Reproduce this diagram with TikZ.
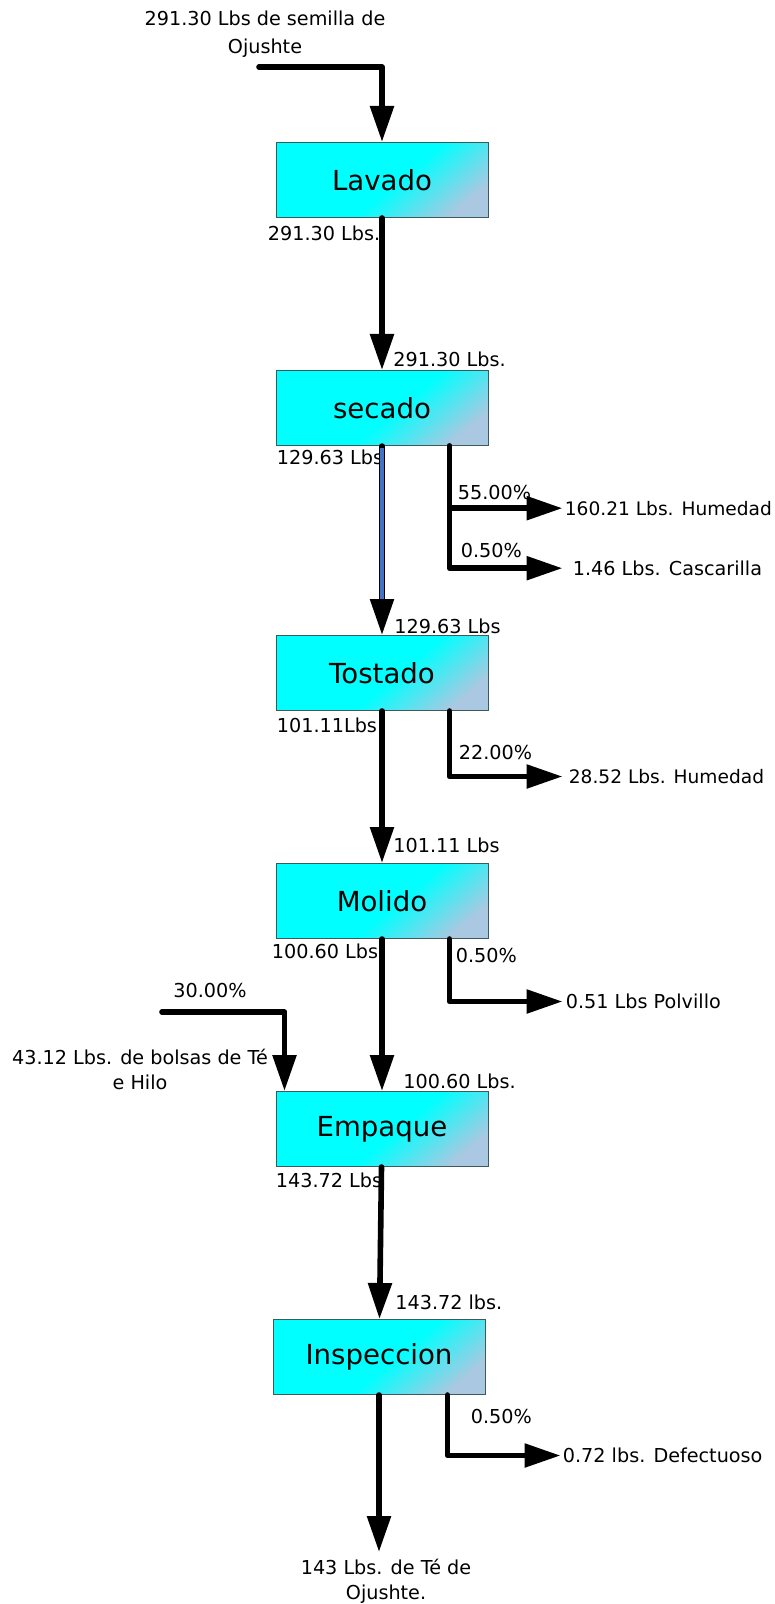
\documentclass[tikz,border=0pt]{standalone}
\usepackage{fontspec}
\setmainfont{DejaVu Sans}
\usepackage{tikz}
\usetikzlibrary{positioning,arrows.meta}
\definecolor{boxcyan}{RGB}{0,255,255}
\definecolor{boxsteel}{RGB}{170,200,225}
\definecolor{boxline}{RGB}{60,90,90}
\definecolor{pipeblue}{RGB}{68,114,196}

\pgfdeclarehorizontalshading{cajagrad}{100bp}{color(0bp)=(boxcyan); color(54bp)=(boxcyan); color(76bp)=(boxsteel); color(100bp)=(boxsteel)}

\tikzset{
	proceso/.style={rectangle, draw=boxline, line width=0.5pt, minimum width=106pt, minimum height=37.5pt, shade, shading=cajagrad, shading angle=-50, font=\fontsize{13.8}{16}\selectfont},
	dato/.style={inner sep=1pt, text height=7pt, text depth=0pt, font=\fontsize{9.6}{12}\selectfont},
	nota/.style={inner sep=1pt, align=center, font=\fontsize{9.6}{13.8}\selectfont},
	flujo/.style={->, >={Triangle[length=18pt,width=11.5pt]}, line width=2.8pt, line cap=round, line join=round}
}

\begin{document}
\begin{tikzpicture}[x=0.5pt, y=-0.5pt]
	\useasboundingbox (0,0) rectangle (775,1604);

	\node[proceso] (lavado) at (382,180) {Lavado};
	\node[proceso, below=76pt of lavado] (secado) {secado};
	\node[proceso, below=94.5pt of secado] (tostado) {Tostado};
	\node[proceso, below=76pt of tostado] (molido) {Molido};
	\node[proceso, below=76pt of molido] (empaque) {Empaque};
	\node[proceso, below=76pt of empaque, xshift=-1.5pt] (inspeccion) {Inspeccion};

	% materia prima
	\node[nota] (semilla) at (265,34) {291.30 Lbs de semilla de\\Ojushte};
	\coordinate (in1) at (259,67);
	\draw[flujo] (in1) -| (lavado.north);

	\node[dato, anchor=west] (l1) at ([xshift=-5pt, yshift=-7.75pt] lavado.south west) {291.30 Lbs.};
	\node[dato, anchor=west] (s1) at ([xshift=4.5pt, yshift=5pt] secado.north) {291.30 Lbs.};
	\draw[flujo] (lavado) -- (secado);

	\node[dato, anchor=west] (s2) at ([xshift=-0.5pt, yshift=-5.75pt] secado.south west) {129.63 Lbs};
	\node[dato, anchor=west] (t1) at ([xshift=5pt, yshift=4.25pt] tostado.north) {129.63 Lbs};
	\draw[flujo, line width=2.7pt] (secado) -- (tostado);
	\draw[pipeblue, line width=1.6pt] ([yshift=-1pt] secado.south) -- ([yshift=18pt] tostado.north);

	\node[dato, anchor=west, font=\fontsize{9.3}{12}\selectfont] (hum1) at ([xshift=37pt, yshift=-31.1pt] secado.south east) {160.21 Lbs. Humedad};
	\node[dato, anchor=west, inner xsep=5pt] (casc) at ([xshift=37pt, yshift=-61.1pt] secado.south east) {1.46 Lbs. Cascarilla};
	\node[dato, anchor=west] (p1) at ([xshift=-16.5pt, yshift=-23.25pt] secado.south east) {55.00\%};
	\node[dato, anchor=west] (p2) at ([xshift=-15pt, yshift=-52.25pt] secado.south east) {0.50\%};
	\draw[flujo] ([xshift=-19.5pt] secado.south east) |- (hum1.west);
	\draw[flujo] ([xshift=-19.5pt] secado.south east) |- (casc.west);

	\node[dato, anchor=west] (t2) at ([xshift=-0.5pt, yshift=-7.25pt] tostado.south west) {101.11Lbs};
	\node[dato, anchor=west] (m1) at ([xshift=4.5pt, yshift=8.75pt] molido.north) {101.11 Lbs};
	\draw[flujo] (tostado) -- (molido);

	\node[dato, anchor=west, inner xsep=3pt, font=\fontsize{9.3}{12}\selectfont] (hum2) at ([xshift=37pt, yshift=-32.75pt] tostado.south east) {28.52 Lbs. Humedad};
	\node[dato, anchor=west] (p3) at ([xshift=-16pt, yshift=-20.75pt] tostado.south east) {22.00\%};
	\draw[flujo] ([xshift=-19.5pt] tostado.south east) |- (hum2.west);

	\node[dato, anchor=west] (m2) at ([xshift=-3pt, yshift=-6.1pt] molido.south west) {100.60 Lbs.};
	\node[dato, anchor=west] (e1) at ([xshift=9.5pt, yshift=4.9pt] empaque.north) {100.60 Lbs.};
	\draw[flujo] (molido) -- (empaque);

	\node[dato, anchor=west, inner xsep=1.5pt] (polv) at ([xshift=37pt, yshift=-31.25pt] molido.south east) {0.51 Lbs Polvillo};
	\node[dato, anchor=west] (p4) at ([xshift=-17.5pt, yshift=-8.1pt] molido.south east) {0.50\%};
	\draw[flujo] ([xshift=-19.5pt] molido.south east) |- (polv.west);

	% bolsas e hilo
	\node[dato] (p5) at (210,990) {30.00\%};
	\node[nota, font=\fontsize{9.6}{12.5}\selectfont] (bolsas) at (140,1069) {43.12 Lbs. de bolsas de Té\\e Hilo};
	\coordinate (in2) at (162,1012);
	\draw[flujo] (in2) -| ([xshift=4.5pt] empaque.north west);

	\node[dato, anchor=west] (e2) at ([xshift=-1pt, yshift=-6.6pt] empaque.south west) {143.72 Lbs};
	\node[dato, anchor=west] (i1) at ([xshift=7pt, yshift=8.5pt] inspeccion.north) {143.72 lbs.};
	\draw[flujo] (empaque) -- (inspeccion);

	\node[dato, anchor=west] (defec) at ([xshift=37.5pt, yshift=-30.25pt] inspeccion.south east) {0.72 lbs. Defectuoso};
	\node[dato, anchor=west] (p6) at ([xshift=-8.5pt, yshift=-10.75pt] inspeccion.south east) {0.50\%};
	\draw[flujo] ([xshift=-19pt] inspeccion.south east) |- (defec.west);

	% producto terminado
	\node[nota, font=\fontsize{9.6}{12.2}\selectfont, below=81pt of inspeccion, xshift=3.5pt] (producto) {143 Lbs. de Té de\\Ojushte.};
	\draw[flujo, shorten >=2.5pt] (inspeccion.south) -- (inspeccion.south |- producto.north);
\end{tikzpicture}
\end{document}
